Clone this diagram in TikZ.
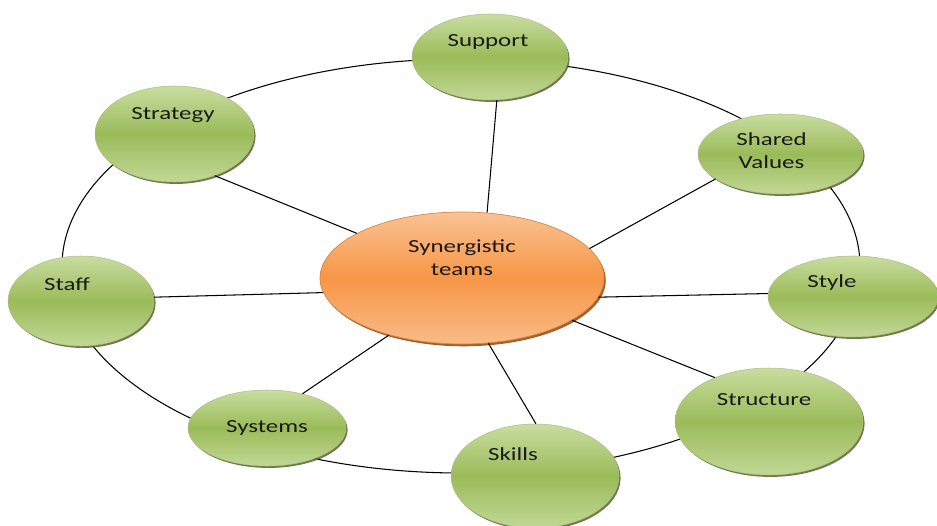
\documentclass[tikz,border=0pt]{standalone}
\usepackage{fontspec}
\setmainfont{Carlito}
\usetikzlibrary{shapes.geometric,shadows}
\definecolor{leafTop}{RGB}{200,221,160}
\definecolor{leafMid}{RGB}{155,187,89}
\definecolor{leafRim}{RGB}{118,146,60}
\definecolor{hubTop}{RGB}{250,194,148}
\definecolor{hubMid}{RGB}{247,150,70}
\definecolor{hubRim}{RGB}{205,105,25}
\newcommand{\wtxt}[1]{\scalebox{1.35}[1]{#1}}
\tikzset{
  leaf/.style={ellipse,inner sep=0pt,draw=leafRim!60,line width=0.3pt,
    top color=leafTop,bottom color=leafTop!85!leafMid,middle color=leafMid,
    drop shadow={shadow xshift=0.9pt,shadow yshift=-1.1pt,fill=leafRim!70!black,opacity=0.85}},
  hub/.style={ellipse,inner sep=0pt,draw=hubRim!80,line width=0.4pt,
    top color=hubTop,bottom color=hubTop!85!hubMid,middle color=hubMid,
    drop shadow={shadow xshift=1pt,shadow yshift=-1.3pt,fill=hubRim!75!black,opacity=0.9}},
  lbl/.style={font=\fontsize{10.5}{13}\selectfont,align=center,text=black!90,inner sep=0pt},
  spoke/.style={line width=0.6pt,black}
}
\begin{document}
\begin{tikzpicture}
\useasboundingbox (0,0) rectangle (18.74,10.5);
% ring behind the outer ellipses
\coordinate (ringc) at (9.22,5.18);
\draw[spoke] (ringc) ellipse [x radius=7.98cm,y radius=4.14cm];

\node[hub,minimum width=5.68cm,minimum height=2.64cm,
  label={[lbl,yshift=0.40cm]center:\wtxt{Synergistic}\\\wtxt{teams}}] (teams) at (9.24,4.94) {};

\node[leaf,minimum width=3.12cm,minimum height=1.72cm,
  label={[lbl,xshift=-0.04cm,yshift=0.30cm]center:\wtxt{Support}}] (support) at (9.80,9.36) {};
\node[leaf,minimum width=3.18cm,minimum height=1.92cm,
  label={[lbl,xshift=-0.03cm,yshift=0.38cm]center:\wtxt{Strategy}}] (strategy) at (3.49,7.82) {};
\node[leaf,minimum width=3.30cm,minimum height=1.60cm,
  label={[lbl,xshift=-0.18cm,yshift=0.06cm]center:\wtxt{Shared}\\\wtxt{Values}}] (values) at (15.61,7.42) {};
\node[leaf,minimum width=3.40cm,minimum height=1.62cm,
  label={[lbl,xshift=-0.42cm,yshift=0.27cm]center:\wtxt{Style}}] (style) at (17.06,4.57) {};
\node[leaf,minimum width=3.76cm,minimum height=2.14cm,
  label={[lbl,xshift=-0.10cm,yshift=0.44cm]center:\wtxt{Structure}}] (structure) at (15.38,2.07) {};
\node[leaf,minimum width=3.36cm,minimum height=2.08cm,
  label={[lbl,xshift=-0.44cm,yshift=0.44cm]center:\wtxt{Skills}}] (skills) at (10.70,0.98) {};
\node[leaf,minimum width=3.16cm,minimum height=1.52cm,
  label={[lbl]center:\wtxt{Systems}}] (systems) at (5.34,1.94) {};
\node[leaf,minimum width=2.92cm,minimum height=1.80cm,
  label={[lbl,xshift=-0.28cm,yshift=0.34cm]center:\wtxt{Staff}}] (staff) at (1.62,4.48) {};

% spokes
\draw[spoke] (teams.69) -- (support.-81);
\draw[spoke] (teams.13) -- (values.201);
\draw[spoke] (teams.-8) -- (style.178);
\draw[spoke] (teams.-21) -- (structure.141);
\draw[spoke] (teams.-68) -- (skills.89);
\draw[spoke] (teams.218) -- (systems.44);
\draw[spoke] (teams.186) -- (staff.3);
\draw[spoke] (teams.157) -- (strategy.-46);
\end{tikzpicture}
\end{document}
